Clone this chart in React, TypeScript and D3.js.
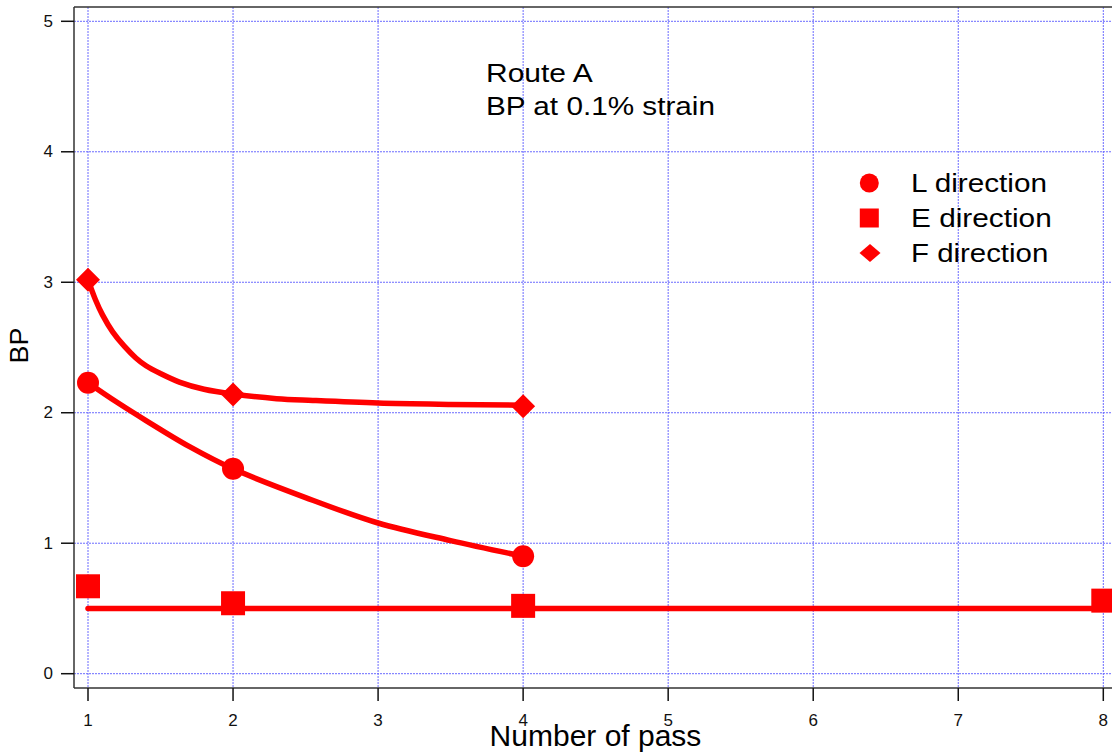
import React from 'react';
import * as d3 from 'd3';

// measured points
const passes = [1, 2, 4];
const lValues = [2.23, 1.57, 0.9];
const fValues = [3.02, 2.14, 2.05];
const ePasses = [1, 2, 4, 8];
const eValues = [0.67, 0.54, 0.52, 0.56];

// fit curves
const lFitX = [1, 1.2, 1.4, 1.7, 2, 2.5, 3, 3.5, 4];
const lFitY = [2.23, 2.08, 1.94, 1.74, 1.57, 1.35, 1.155, 1.02, 0.9];
const fFitX = [1, 1.05, 1.1, 1.17, 1.25, 1.33, 1.4, 1.5, 1.63, 1.8, 2, 2.3, 2.55, 3, 3.5, 4];
const fFitY = [3.02, 2.87, 2.75, 2.62, 2.51, 2.42, 2.36, 2.3, 2.235, 2.18, 2.143, 2.108, 2.094, 2.074, 2.064, 2.058];
const eFitX = [1, 8];
const eFitY = [0.5, 0.5];

const xTicks = [1, 2, 3, 4, 5, 6, 7, 8];
const yTicks = [0, 1, 2, 3, 4, 5];
const legendLabels = ['L direction', 'E direction', 'F direction'];

const W = 1112;
const H = 755;
const RED = '#ff0000';

const x = d3.scaleLinear().domain([1, 8]).range([88, 1103.3]);
const y = d3.scaleLinear().domain([0, 5]).range([673.7, 21.3]);

const zip = (xs: number[], ys: number[]) => xs.map((v, i) => [v, ys[i]] as [number, number]);

const line = d3.line<[number, number]>()
  .x(d => x(d[0]))
  .y(d => y(d[1]))
  .curve(d3.curveCatmullRom.alpha(0.5));

const diamond = (cx: number, cy: number, hw: number, hh: number) =>
  `M${cx},${cy - hh}L${cx + hw},${cy}L${cx},${cy + hh}L${cx - hw},${cy}Z`;

export default function App() {
  const plotLeft = 74;
  const plotTop = 7;
  const plotBottom = 688;

  return (
    <svg width={W} height={H} style={{ position: 'absolute', left: 0, top: 0, background: '#fff' }}
      fontFamily="'Liberation Sans', Arial, sans-serif">
      {/* grid */}
      <g stroke="#6b6bff" strokeWidth={1} strokeDasharray="2,1">
        {xTicks.map(t => (
          <line key={'gx' + t} x1={x(t)} x2={x(t)} y1={plotTop} y2={plotBottom} />
        ))}
        {yTicks.map(t => (
          <line key={'gy' + t} x1={plotLeft} x2={W} y1={y(t)} y2={y(t)} />
        ))}
      </g>

      {/* frame */}
      <g stroke="#333" strokeWidth={1.5} fill="none">
        <line x1={plotLeft} x2={plotLeft} y1={plotTop} y2={plotBottom} />
        <line x1={plotLeft} x2={W} y1={plotTop} y2={plotTop} />
        <line x1={plotLeft} x2={W} y1={plotBottom} y2={plotBottom} />
      </g>

      {/* y axis */}
      <g fontSize={17} fill="#111">
        {yTicks.map(t => (
          <g key={'yt' + t}>
            <line x1={61} x2={plotLeft} y1={y(t)} y2={y(t)} stroke="#111" strokeWidth={1.5} />
            <text x={53} y={y(t)} textAnchor="end" dominantBaseline="central">{t}</text>
          </g>
        ))}
      </g>

      {/* x axis */}
      <g fontSize={17} fill="#111">
        {xTicks.map(t => (
          <g key={'xt' + t}>
            <line x1={x(t)} x2={x(t)} y1={plotBottom} y2={701} stroke="#111" strokeWidth={1.5} />
            <text x={x(t)} y={725.5} textAnchor="middle">{t}</text>
          </g>
        ))}
      </g>

      <text x={595.5} y={745.7} fontSize={30} textAnchor="middle" fill="#000">Number of pass</text>
      <text transform="translate(28,345.5) rotate(-90)" fontSize={26} textAnchor="middle"
        textLength={36} lengthAdjust="spacingAndGlyphs" fill="#000">BP</text>

      {/* fits */}
      <g fill="none" stroke={RED} strokeWidth={5.5} strokeLinecap="round" strokeLinejoin="round">
        <path d={line(zip(eFitX, eFitY)) || ''} />
        <path d={line(zip(lFitX, lFitY)) || ''} />
        <path d={line(zip(fFitX, fFitY)) || ''} />
      </g>

      {/* markers */}
      <g fill={RED}>
        {passes.map((p, i) => (
          <circle key={'l' + p} cx={x(p)} cy={y(lValues[i])} r={11} />
        ))}
        {ePasses.map((p, i) => (
          <rect key={'e' + p} x={x(p) - 12} y={y(eValues[i]) - 12} width={24} height={24} />
        ))}
        {passes.map((p, i) => (
          <path key={'f' + p} d={diamond(x(p), y(fValues[i]), 12, 12)} />
        ))}
      </g>

      {/* annotation */}
      <g fontSize={26} fill="#000">
        <text x={486} y={82.3} textLength={106.7} lengthAdjust="spacingAndGlyphs">Route A</text>
        <text x={486} y={115} textLength={229} lengthAdjust="spacingAndGlyphs">BP at 0.1% strain</text>
      </g>

      {/* legend */}
      <g>
        <circle cx={869.3} cy={183} r={9.5} fill={RED} />
        <rect x={859.8} y={208.5} width={19} height={19} fill={RED} />
        <path d={diamond(870, 253, 10.5, 9)} fill={RED} />
        <g fontSize={26} fill="#000">
          <text x={911} y={192} textLength={136} lengthAdjust="spacingAndGlyphs">{legendLabels[0]}</text>
          <text x={911} y={226.7} textLength={140.7} lengthAdjust="spacingAndGlyphs">{legendLabels[1]}</text>
          <text x={911} y={261.7} textLength={137.3} lengthAdjust="spacingAndGlyphs">{legendLabels[2]}</text>
        </g>
      </g>
    </svg>
  );
}
